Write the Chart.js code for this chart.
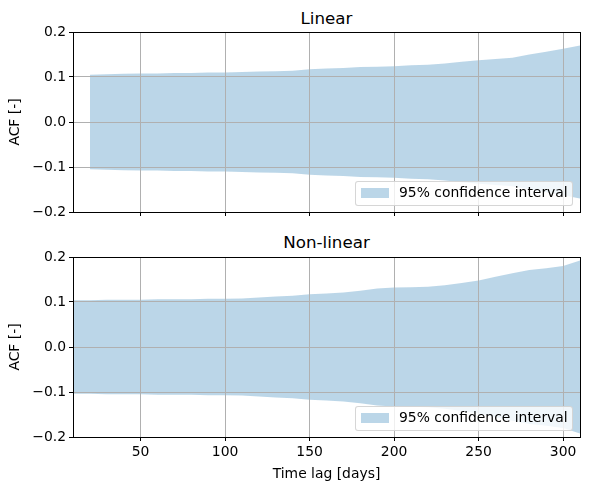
<!DOCTYPE html>
<html>
<head>
<meta charset="utf-8">
<script src="https://cdn.jsdelivr.net/npm/chart.js@4/dist/chart.umd.min.js"></script>
<style>
  body { margin: 0; background: #fff; }
  #wrap { position: relative; width: 590px; height: 490px; font-family: "DejaVu Sans", sans-serif; }
  canvas { position: absolute; left: 0; }
  .title { position: absolute; left: 73px; width: 507px; text-align: center; font-size: 16.7px; line-height: 20px; color: #000; }
  .legend {
    position: absolute; left: 355px; width: 216px; height: 23px;
    background: rgba(255,255,255,0.8); border: 1px solid rgba(204,204,204,0.8); border-radius: 3px;
    font-size: 13.9px; color: #000;
  }
  .legend .patch { position: absolute; left: 5px; top: 6px; width: 28px; height: 10px; background: rgba(31,119,180,0.3); }
  .legend .label { position: absolute; left: 43px; top: 2px; white-space: nowrap; }
</style>
</head>
<body>
<div id="wrap">
  <div class="title" style="top: 8px;">Linear</div>
  <canvas id="linearChart" width="590" height="230" style="top: 0;"></canvas>
  <div class="legend" style="top: 181px;"><div class="patch"></div><div class="label">95% confidence interval</div></div>

  <div class="title" style="top: 232px;">Non-linear</div>
  <canvas id="nonlinearChart" width="590" height="260" style="top: 230px;"></canvas>
  <div class="legend" style="top: 406px;"><div class="patch"></div><div class="label">95% confidence interval</div></div>
</div>

<script>
// lags in days
const lagsLinear = [20, 30, 40, 50, 60, 70, 80, 90, 100, 110, 120, 130, 140, 150, 160, 170, 180, 190, 200, 210, 220, 230, 240, 250, 260, 270, 280, 290, 300, 310];
const upperLinear = [0.105, 0.106, 0.107, 0.108, 0.108, 0.109, 0.109, 0.110, 0.110, 0.111, 0.112, 0.113, 0.114, 0.117, 0.119, 0.120, 0.122, 0.123, 0.124, 0.126, 0.127, 0.130, 0.134, 0.137, 0.140, 0.143, 0.150, 0.156, 0.163, 0.170];
const lowerLinear = [-0.105, -0.106, -0.107, -0.108, -0.108, -0.109, -0.109, -0.110, -0.110, -0.111, -0.112, -0.113, -0.114, -0.117, -0.119, -0.120, -0.122, -0.123, -0.124, -0.126, -0.127, -0.130, -0.134, -0.137, -0.140, -0.143, -0.150, -0.156, -0.163, -0.170];

const lagsNonlinear = [10, 20, 30, 40, 50, 60, 70, 80, 90, 100, 110, 120, 130, 140, 150, 160, 170, 180, 190, 200, 210, 220, 230, 240, 250, 260, 270, 280, 290, 300, 310];
const upperNonlinear = [0.104, 0.104, 0.105, 0.105, 0.105, 0.106, 0.106, 0.106, 0.107, 0.107, 0.108, 0.110, 0.112, 0.114, 0.117, 0.119, 0.121, 0.125, 0.130, 0.132, 0.133, 0.134, 0.137, 0.142, 0.148, 0.156, 0.164, 0.171, 0.175, 0.180, 0.192];
const lowerNonlinear = [-0.104, -0.104, -0.105, -0.105, -0.105, -0.106, -0.106, -0.106, -0.107, -0.107, -0.108, -0.110, -0.112, -0.114, -0.117, -0.119, -0.121, -0.125, -0.130, -0.132, -0.133, -0.134, -0.137, -0.142, -0.148, -0.156, -0.164, -0.171, -0.175, -0.180, -0.192];

const xTicks = [50, 100, 150, 200, 250, 300];
const yTicks = [-0.2, -0.1, 0.0, 0.1, 0.2];

Chart.defaults.font.family = '"DejaVu Sans", sans-serif';
Chart.defaults.font.size = 13.9;
Chart.defaults.color = '#000';

// matplotlib-like box around the axes
const framePlugin = {
    id: 'frame',
    afterDraw(chart) {
        const { ctx, chartArea: a } = chart;
        ctx.save();
        ctx.strokeStyle = '#000';
        ctx.lineWidth = 1;
        ctx.strokeRect(Math.round(a.left) + 0.5, Math.round(a.top) + 0.5, Math.round(a.right - a.left), Math.round(a.bottom - a.top));
        ctx.restore();
    }
};

function fmtY(v) {
    const s = Math.abs(v).toFixed(1);
    return v < -1e-9 ? '\u2212' + s : s;
}

function makeChart(id, lags, upper, lower, showXLabels, padTop, xHeight) {
    const toPts = arr => lags.map((x, i) => ({ x: x, y: arr[i] }));
    return new Chart(document.getElementById(id), {
        type: 'line',
        data: {
            datasets: [{
                label: '95% confidence interval',
                data: toPts(upper),
                borderWidth: 0,
                pointRadius: 0,
                backgroundColor: 'rgba(31,119,180,0.3)',
                fill: '+1',
                tension: 0
            }, {
                label: 'lower',
                data: toPts(lower),
                borderWidth: 0,
                pointRadius: 0,
                fill: false,
                tension: 0
            }]
        },
        options: {
            responsive: false,
            animation: false,
            layout: { padding: { top: padTop, right: 10, left: 0, bottom: 0 } },
            plugins: {
                legend: { display: false },
                tooltip: { enabled: false }
            },
            scales: {
                x: {
                    type: 'linear',
                    min: 10,
                    max: 310,
                    afterBuildTicks: s => { s.ticks = xTicks.map(v => ({ value: v })); },
                    afterFit: s => { s.height = xHeight; },
                    grid: { color: '#b0b0b0', lineWidth: 1, z: 1, tickLength: 4, tickColor: '#000' },
                    border: { display: false },
                    ticks: { display: showXLabels, padding: 3, maxRotation: 0 },
                    title: {
                        display: showXLabels,
                        text: 'Time lag [days]',
                        padding: { top: 0, bottom: 7 }
                    }
                },
                y: {
                    min: -0.2,
                    max: 0.2,
                    afterBuildTicks: s => { s.ticks = yTicks.map(v => ({ value: v })); },
                    afterFit: s => { s.width = 73; },
                    grid: { color: '#b0b0b0', lineWidth: 1, z: 1, tickLength: 4, tickColor: '#000' },
                    border: { display: false },
                    ticks: { padding: 3, callback: v => fmtY(v) },
                    title: {
                        display: true,
                        text: 'ACF [-]',
                        padding: { top: 7.5, bottom: 0 }
                    }
                }
            }
        },
        plugins: [framePlugin]
    });
}

makeChart('linearChart', lagsLinear, upperLinear, lowerLinear, false, 32, 18);
makeChart('nonlinearChart', lagsNonlinear, upperNonlinear, lowerNonlinear, true, 27, 53);
</script>
</body>
</html>
